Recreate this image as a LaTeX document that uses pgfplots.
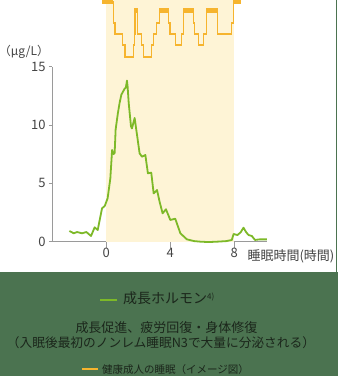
\documentclass[border=0pt]{standalone}
\usepackage{pgfplots}
\pgfplotsset{compat=1.18}
\usepackage{fontspec}
\newfontfamily\cjk{Noto Sans CJK JP}
\definecolor{band}{HTML}{4B7350}
\definecolor{gh}{HTML}{7DB928}
\definecolor{sleep}{HTML}{F6B42E}
\definecolor{shade}{HTML}{FEF4D6}
\definecolor{axisgray}{HTML}{9A9A9A}
\definecolor{labelgray}{HTML}{444444}
\definecolor{bandtext}{HTML}{1B261B}
\begin{document}
\begin{tikzpicture}[x=1pt,y=1pt]
\useasboundingbox (0,0) rectangle (338,376);
\clip (0,0) rectangle (338,376);
\fill[white] (0,104) rectangle (338,376);
\fill[band] (0,0) rectangle (338,104);
\draw[band, line width=1.2pt] (336.6,104) -- (336.6,376);
\begin{axis}[
  at={(52pt,134.3pt)}, anchor=south west, scale only axis,
  width=215pt, height=241.7pt,
  xmin=-3.4, xmax=10.05, ymin=0, ymax=20.71,
  clip=false,
  axis x line=bottom, axis y line=left,
  axis line style={draw=axisgray, -, line width=0.8pt},
  y axis line style={draw=none},
  xtick={0,4,8}, ytick={0,5,10,15},
  tick align=outside,
  major tick length=3pt,
  xtick style={draw=axisgray, line width=0.8pt, /pgfplots/major tick length=6pt},
  ytick style={draw=axisgray, line width=0.8pt},
  ticklabel style={font=\cjk\fontsize{13}{13}\selectfont, text=labelgray},
  /pgf/number format/assume math mode=true,
  unbounded coords=jump,
]
\addplot[draw=none, fill=shade] coordinates {(0,20.71) (8,20.71)} \closedcycle;
\draw[axisgray, line width=0.8pt] (axis cs:-3.4,0) -- (axis cs:-3.4,15);
% hypnogram (stage levels: W 20.58, R 19.98, N1 18.74, N2 17.8, N3 16.86, N4 15.83)
\addplot[sleep, line width=1.3pt, const plot] coordinates {
(-0.27,20.58) (0.44,18.74) (0.54,17.8) (1.0,16.86) (1.17,15.83) (1.69,16.86) (1.75,17.8)
(1.79,19.98) (1.96,17.8) (2.2,16.86) (2.31,15.83) (2.83,16.86) (2.94,17.8) (3.14,18.74)
(3.31,19.98) (3.875,18.74) (3.98,17.8) (4.33,16.86) (4.71,17.8) (4.81,19.98) (5.44,18.74)
(5.5,17.8) (5.75,16.86) (6.06,17.8) (6.27,19.98) (6.96,17.8) (7.83,18.74) (7.94,20.58) (8.44,20.58)};
\addplot[sleep, line width=4.5pt] coordinates {
(-0.27,20.58) (0.44,20.58) (0.44,nan)
(1.79,19.79) (1.96,19.79) (1.96,nan)
(3.31,19.79) (3.875,19.79) (3.875,nan)
(4.81,19.79) (5.44,19.79) (5.44,nan)
(6.27,19.79) (6.96,19.79) (6.96,nan)
(7.94,20.58) (8.44,20.58)};
% growth hormone
\addplot[gh, line width=1.8pt, line join=round] coordinates {
(-2.31,0.92) (-2.04,0.72) (-1.83,0.83) (-1.52,0.72) (-1.25,0.83) (-0.96,0.49) (-0.73,1.23)
(-0.54,1.0) (-0.27,2.86) (-0.1,3.06) (0.08,3.72) (0.25,5.43) (0.36,7.86) (0.45,7.5)
(0.52,7.6) (0.58,9.6) (0.72,11.0) (0.83,11.9) (0.94,12.6) (1.14,13.1) (1.22,13.2)
(1.29,13.8) (1.33,13.3) (1.4,11.86) (1.54,9.9) (1.6,9.7) (1.77,10.6) (1.92,9.14)
(2.08,7.57) (2.23,7.28) (2.44,7.43) (2.6,5.86) (2.81,5.91) (2.96,4.14) (3.17,4.43)
(3.33,3.43) (3.52,2.43) (3.73,2.78) (4.0,1.86) (4.31,1.97) (4.63,0.72) (5.04,0.2)
(5.5,0.05) (5.9,0) (6.4,-0.03) (6.9,0) (7.5,0.05) (7.85,0.15) (7.96,0.66) (8.2,0.57)
(8.4,0.8) (8.58,1.2) (8.75,0.8) (8.9,0.57) (9.1,0.49) (9.3,0.15) (9.6,0.2) (10.04,0.2)};
\end{axis}
\node[font=\cjk\fontsize{12}{12}\selectfont, text=labelgray] at (24,324) {（μg/L）};
\node[font=\cjk\fontsize{13}{13}\selectfont, text=labelgray] at (291,120) {睡眠時間(時間)};
\draw[gh, line width=2pt] (100,76) -- (117,76);
\node[anchor=west, font=\cjk\fontsize{14}{14}\selectfont, text=bandtext, inner sep=0pt] at (123,78) {成長ホルモン\raisebox{0.5ex}{\fontsize{8}{8}\selectfont 4)}};
\node[font=\cjk\fontsize{13}{13}\selectfont, text=bandtext, inner sep=0pt] at (166.5,48) {成長促進、疲労回復・身体修復};
\node[font=\cjk\fontsize{12.7}{12.7}\selectfont, text=bandtext, inner sep=0pt] at (161,33) {（入眠後最初のノンレム睡眠N3で大量に分泌される）};
\draw[sleep, line width=2.5pt] (82,7) -- (98,7);
\node[anchor=west, font=\cjk\fontsize{10.5}{10.5}\selectfont, text=bandtext, inner sep=0pt] at (102,6) {健康成人の睡眠（イメージ図）};
\end{tikzpicture}
\end{document}
